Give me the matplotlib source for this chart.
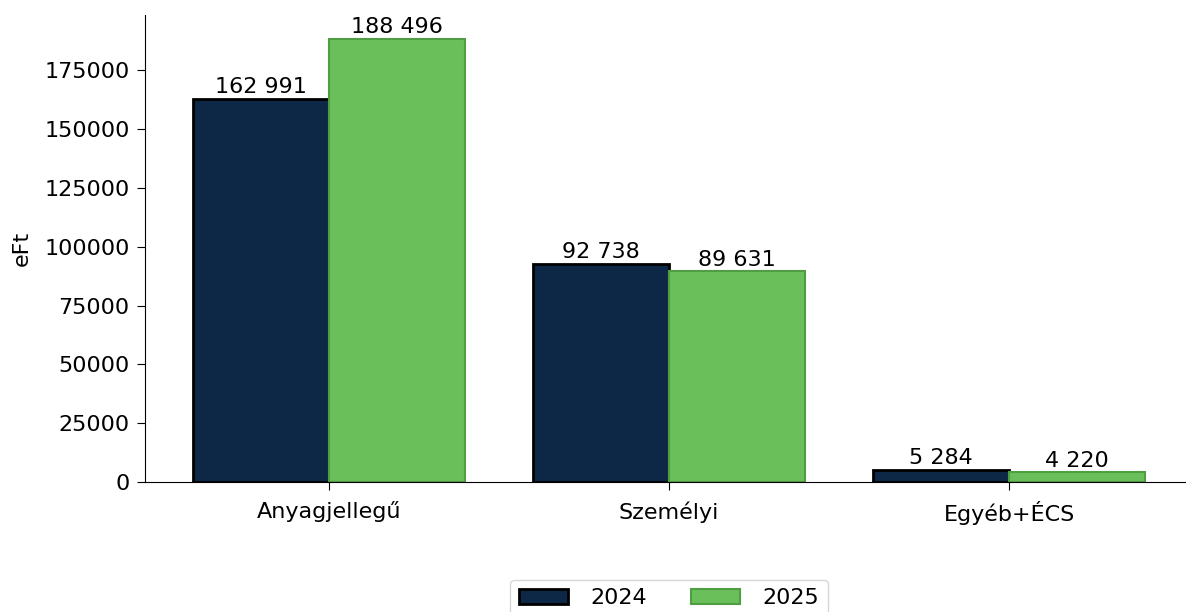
import matplotlib.pyplot as plt
import numpy as np

categories = ["Anyagjellegű", "Személyi", "Egyéb+ÉCS"]
values_2024 = [162991, 92738, 5284]
values_2025 = [188496, 89631, 4220]
years = ["2024", "2025"]

plt.rcParams['font.family'] = 'DejaVu Sans'
plt.rcParams['font.size'] = 16

fig = plt.figure(figsize=(11.86, 6.12), dpi=100)
ax = fig.add_axes([145 / 1186, 1 - 482 / 612, 1048 / 1186, 467 / 612])

x = np.arange(len(categories))
w = 0.4
b1 = ax.bar(x - w / 2, values_2024, w, color="#0d2846", edgecolor="#000000", linewidth=2, label=years[0])
b2 = ax.bar(x + w / 2, values_2025, w, color="#6abf5b", edgecolor="#4f9f42", linewidth=1.5, label=years[1])

for bars in (b1, b2):
    for rect in bars:
        h = rect.get_height()
        ax.annotate(f"{int(h):,}".replace(",", " "),
                    (rect.get_x() + rect.get_width() / 2, h),
                    xytext=(0, 1), textcoords="offset points",
                    ha="center", va="bottom", fontsize=16)

ax.set_xticks(x)
ax.set_xticklabels(categories)
ax.set_xlim(-0.54, 2.54)
ax.set_ylim(0, 198500)
ax.set_yticks(np.arange(0, 175001, 25000))
ax.set_ylabel("eFt")
ax.yaxis.set_label_coords(-0.108, 0.5)
ax.tick_params(length=6, pad=5)
ax.tick_params(axis='x', pad=8)
ax.spines['top'].set_visible(False)
ax.spines['right'].set_visible(False)

ax.legend(loc="upper center", bbox_to_anchor=(0.5, -0.185), ncol=2,
          columnspacing=2.0, handlelength=2.2, handletextpad=1.0, fontsize=16)

fig.savefig("out.png", dpi=100)
